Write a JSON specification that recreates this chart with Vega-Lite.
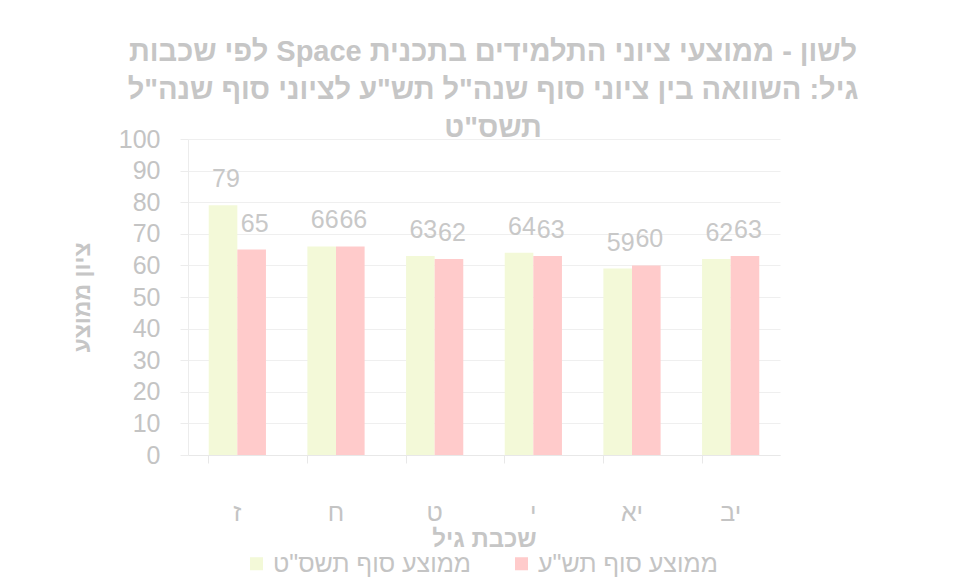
{
  "$schema": "https://vega.github.io/schema/vega-lite/v6.json",
  "width": 592,
  "height": 316,
  "autosize": {"type": "none"},
  "padding": {"left": 188, "top": 139, "right": 177, "bottom": 127},
  "background": "white",
  "title": {
    "text": ["\u202bלשון - ממוצעי ציוני התלמידים בתכנית Space לפי שכבות\u202c", "\u202bגיל:  השוואה בין ציוני סוף שנה\"ל תש\"ע לציוני סוף שנה\"ל\u202c", "\u202bתשס\"ט\u202c"],
    "font": "Liberation Sans",
    "fontSize": 29,
    "fontWeight": "bold",
    "color": "#c6c6c6",
    "lineHeight": 38,
    "anchor": "middle",
    "frame": "group",
    "dx": 9,
    "offset": -16
  },
  "data": {
    "values": [
      {"grade": "ז", "series": "ממוצע סוף תשס\"ט", "value": 79},
      {"grade": "ז", "series": "ממוצע סוף תש\"ע", "value": 65},
      {"grade": "ח", "series": "ממוצע סוף תשס\"ט", "value": 66},
      {"grade": "ח", "series": "ממוצע סוף תש\"ע", "value": 66},
      {"grade": "ט", "series": "ממוצע סוף תשס\"ט", "value": 63},
      {"grade": "ט", "series": "ממוצע סוף תש\"ע", "value": 62},
      {"grade": "י", "series": "ממוצע סוף תשס\"ט", "value": 64},
      {"grade": "י", "series": "ממוצע סוף תש\"ע", "value": 63},
      {"grade": "יא", "series": "ממוצע סוף תשס\"ט", "value": 59},
      {"grade": "יא", "series": "ממוצע סוף תש\"ע", "value": 60},
      {"grade": "יב", "series": "ממוצע סוף תשס\"ט", "value": 62},
      {"grade": "יב", "series": "ממוצע סוף תש\"ע", "value": 63}
    ]
  },
  "encoding": {
    "x": {
      "field": "grade",
      "type": "nominal",
      "sort": ["ז", "ח", "ט", "י", "יא", "יב"],
      "scale": {"paddingInner": 0.42, "paddingOuter": 0.21},
      "axis": {
        "title": "שכבת גיל",
        "labelAngle": 0,
        "labelPadding": 37,
        "labelFontSize": 25,
        "labelColor": "#c4c4c4",
        "labelFont": "Liberation Sans",
        "titleFont": "Liberation Sans",
        "titleFontSize": 24,
        "titleFontWeight": "bold",
        "titleColor": "#c6c6c6",
        "titlePadding": 2,
        "bandPosition": 0,
        "ticks": true,
        "tickSize": 8,
        "tickColor": "#e8e8e8",
        "domainColor": "#e8e8e8",
        "grid": false
      }
    },
    "xOffset": {
      "field": "series",
      "type": "nominal",
      "sort": ["ממוצע סוף תשס\"ט", "ממוצע סוף תש\"ע"]
    },
    "y": {
      "field": "value",
      "type": "quantitative",
      "scale": {"domain": [0, 100]},
      "axis": {
        "title": "ציון ממוצע",
        "values": [0, 10, 20, 30, 40, 50, 60, 70, 80, 90, 100],
        "labelFontSize": 25,
        "labelColor": "#c4c4c4",
        "labelFont": "Liberation Sans",
        "labelPadding": 20,
        "titleFont": "Liberation Sans",
        "titleFontSize": 23,
        "titleFontWeight": "bold",
        "titleColor": "#c6c6c6",
        "titlePadding": 24,
        "tickSize": 8,
        "tickColor": "#ececec",
        "domainColor": "#ececec",
        "gridColor": "#efefef"
      }
    }
  },
  "layer": [
    {
      "mark": {"type": "bar"},
      "encoding": {
        "color": {
          "field": "series",
          "type": "nominal",
          "scale": {"domain": ["ממוצע סוף תשס\"ט", "ממוצע סוף תש\"ע"], "range": ["#f3f9d8", "#ffcbcb"]},
          "legend": {
            "title": null,
            "orient": "none",
            "direction": "horizontal",
            "legendX": 56,
            "legendY": 412,
            "symbolType": "square",
            "symbolSize": 170,
            "symbolStrokeWidth": 0,
            "labelFont": "Liberation Sans",
            "labelFontSize": 25,
            "labelColor": "#c4c4c4",
            "labelOffset": 4,
            "columnPadding": 38,
            "labelLimit": 400
          }
        }
      }
    },
    {
      "mark": {"type": "text", "baseline": "alphabetic", "dy": -18, "dx": 3, "font": "Liberation Sans", "fontSize": 25, "color": "#c8c8c8"},
      "encoding": {
        "text": {"field": "value", "type": "quantitative"}
      }
    }
  ],
  "config": {
    "view": {"stroke": null}
  }
}
